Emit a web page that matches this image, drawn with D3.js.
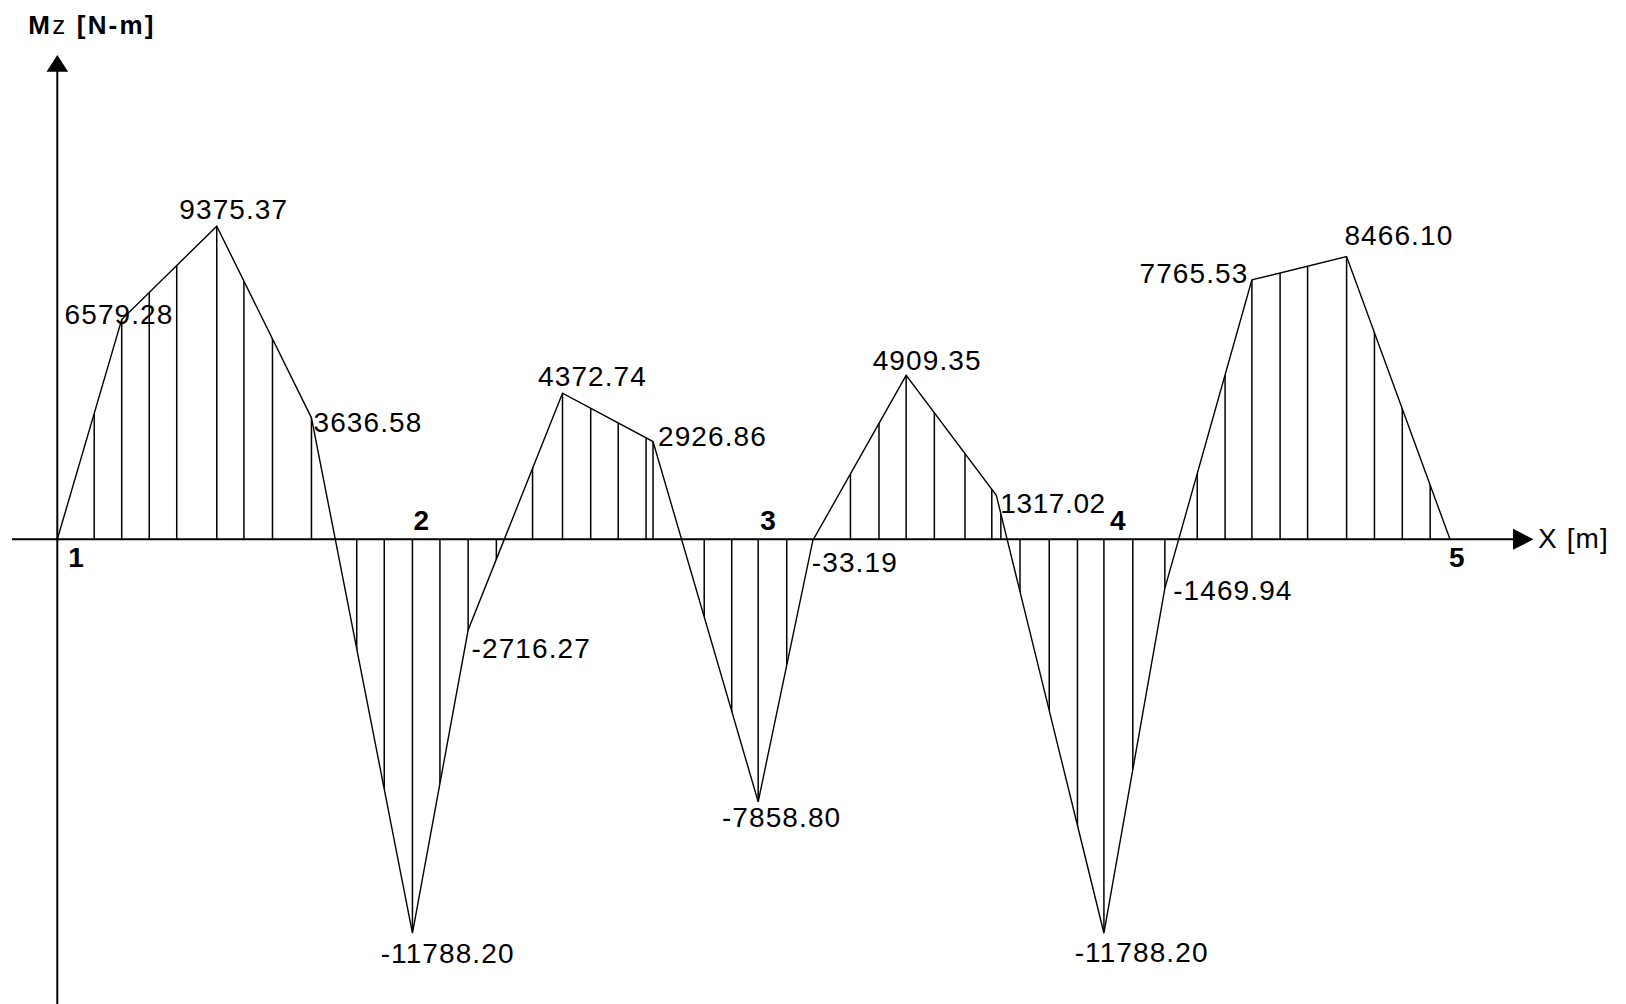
<!DOCTYPE html>
<html>
<head>
<meta charset="utf-8">
<script src="https://cdn.jsdelivr.net/npm/d3@7"></script>
<style>
  html, body { margin: 0; padding: 0; background: #ffffff; }
  svg { display: block; }
  text { font-family: "Liberation Sans", Arial, sans-serif; }
</style>
</head>
<body>
<svg id="chart" width="1626" height="1004"></svg>
<script>
// Beam nodes along X [m] and their numbers
const nodeX = [0, 1.020, 2.013, 3.006, 4.000];
const nodeNames = ["1", "2", "3", "4", "5"];

// Bending moment diagram Mz [N-m]: vertex positions and values
const momentX = [0, 0.185, 0.458, 0.730, 1.020, 1.180, 1.451, 1.711, 2.013,
                 2.170, 2.438, 2.697, 3.006, 3.181, 3.431, 3.703, 4.000];
const momentValue = [0, 6579.28, 9375.37, 3636.58, -11788.20, -2716.27, 4372.74,
                     2926.86, -7858.80, -33.19, 4909.35, 1317.02, -11788.20,
                     -1469.94, 7765.53, 8466.10, 0];

// Stations along the beam where the diagram is hatched
const hatchX = [0.106, 0.185, 0.264, 0.343, 0.458, 0.536, 0.618, 0.730,
                0.860, 0.939, 1.020, 1.099, 1.180, 1.261,
                1.365, 1.451, 1.532, 1.611, 1.691, 1.711,
                1.858, 1.937, 2.013, 2.095, 2.170,
                2.278, 2.360, 2.438, 2.519, 2.607, 2.684, 2.710,
                2.765, 2.849, 2.930, 3.006, 3.089, 3.181,
                3.274, 3.354, 3.431, 3.512, 3.591, 3.703, 3.783, 3.863, 3.943];

// Axis titles
const yTitleMain = "M";
const yTitleSub = "z";
const yTitleUnit = " [N-m]";
const xTitle = "X [m]";

// ---- layout ----
const svg = d3.select("#chart");
const W = 1626, H = 1004;

const x = d3.scaleLinear().domain([0, 4]).range([57.3, 1450]);
const y = d3.scaleLinear().domain([0, 10000]).range([539.3, 205.3]);
const y0 = y(0);

// value label placement relative to each labelled vertex (text baseline)
const labelLayout = [
  null,
  { anchor: "middle", dx: -2.7, dy: 4 },   // 6579.28
  { anchor: "middle", dx: 17,   dy: -7 },  // 9375.37
  { anchor: "start",  dx: 2,    dy: 14 },  // 3636.58
  { anchor: "middle", dx: 35.2, dy: 30 },  // -11788.20
  { anchor: "start",  dx: 3.4,  dy: 28 },  // -2716.27
  { anchor: "middle", dx: 30,   dy: -7 },  // 4372.74
  { anchor: "start",  dx: 5,    dy: 4.5 }, // 2926.86
  { anchor: "middle", dx: 23.4, dy: 25 },  // -7858.80
  { anchor: "start",  dx: -1,   dy: 32 },  // -33.19
  { anchor: "middle", dx: 21,   dy: -5.3 },// 4909.35
  { anchor: "start",  dx: 4,    dy: 17.4 },// 1317.02
  { anchor: "middle", dx: 37.7, dy: 28.7 },// -11788.20
  { anchor: "start",  dx: 8.3,  dy: 11.6 },// -1469.94
  { anchor: "end",    dx: -3.5, dy: 2.8 }, // 7765.53
  { anchor: "start",  dx: -2.2, dy: -11.5 },// 8466.10
  null
];

// node number placement (text left edge / baseline offsets)
const nodeLayout = [
  { dx: 11,  dy: 28 },
  { dx: 1,   dy: -9.5 },
  { dx: 2,   dy: -9.5 },
  { dx: 6,   dy: -9.5 },
  { dx: -1,  dy: 27.5 }
];

const pts = momentX.map((v, i) => ({ x: v, m: momentValue[i] }));

// clip region: the area between the moment line and the beam axis
const area = d3.area()
  .x(d => x(d.x))
  .y0(y0)
  .y1(d => y(d.m));

svg.append("defs").append("clipPath")
  .attr("id", "diagramArea")
  .append("path")
  .attr("d", area(pts));

// hatching
const yMin = y(d3.min(momentValue));
const yMax = y(d3.max(momentValue));
svg.append("g")
  .attr("clip-path", "url(#diagramArea)")
  .selectAll("line")
  .data(hatchX)
  .join("line")
  .attr("x1", d => x(d)).attr("x2", d => x(d))
  .attr("y1", yMax - 5).attr("y2", yMin + 5)
  .attr("stroke", "#000")
  .attr("stroke-width", 1.5);

// moment line
const line = d3.line().x(d => x(d.x)).y(d => y(d.m));
svg.append("path")
  .attr("d", line(pts))
  .attr("fill", "none")
  .attr("stroke", "#000")
  .attr("stroke-width", 1.4)
  .attr("stroke-linejoin", "miter");

// X axis with arrow
svg.append("line")
  .attr("x1", 12).attr("x2", 1516)
  .attr("y1", y0).attr("y2", y0)
  .attr("stroke", "#000").attr("stroke-width", 2);
svg.append("path")
  .attr("d", `M1513,${y0 - 10.5} L1533.5,${y0} L1513,${y0 + 10.5} Z`)
  .attr("fill", "#000");

// Y axis with arrow
const ax = x(0);
svg.append("line")
  .attr("x1", ax).attr("x2", ax)
  .attr("y1", H).attr("y2", 70)
  .attr("stroke", "#000").attr("stroke-width", 2);
svg.append("path")
  .attr("d", `M${ax - 10.8},71.7 L${ax},55 L${ax + 10.8},71.7 Z`)
  .attr("fill", "#000");

// axis titles
const yt = svg.append("text")
  .attr("x", 28.3).attr("y", 34)
  .attr("font-size", 26)
  .attr("letter-spacing", 2.2)
  .attr("fill", "#000");
yt.append("tspan").attr("font-weight", "bold").text(yTitleMain);
yt.append("tspan").attr("font-weight", "normal").text(yTitleSub);
yt.append("tspan").attr("font-weight", "bold").text(yTitleUnit);

svg.append("text")
  .attr("x", 1538).attr("y", 548.3)
  .attr("font-size", 28)
  .attr("letter-spacing", 1.1)
  .attr("fill", "#000")
  .text(xTitle);

// node numbers
svg.append("g")
  .selectAll("text")
  .data(nodeX)
  .join("text")
  .attr("x", (d, i) => x(d) + nodeLayout[i].dx)
  .attr("y", (d, i) => y0 + nodeLayout[i].dy)
  .attr("font-size", 28)
  .attr("font-weight", "bold")
  .attr("fill", "#000")
  .text((d, i) => nodeNames[i]);

// value labels
svg.append("g")
  .selectAll("text")
  .data(pts.map((p, i) => ({ ...p, i })).filter(p => labelLayout[p.i]))
  .join("text")
  .attr("x", d => x(d.x) + labelLayout[d.i].dx)
  .attr("y", d => y(d.m) + labelLayout[d.i].dy)
  .attr("text-anchor", d => labelLayout[d.i].anchor)
  .attr("font-size", 28)
  .attr("letter-spacing", d => d.i === 11 ? 0.6 : 1.1)
  .attr("fill", "#000")
  .text(d => d.m.toFixed(2));
</script>
</body>
</html>
